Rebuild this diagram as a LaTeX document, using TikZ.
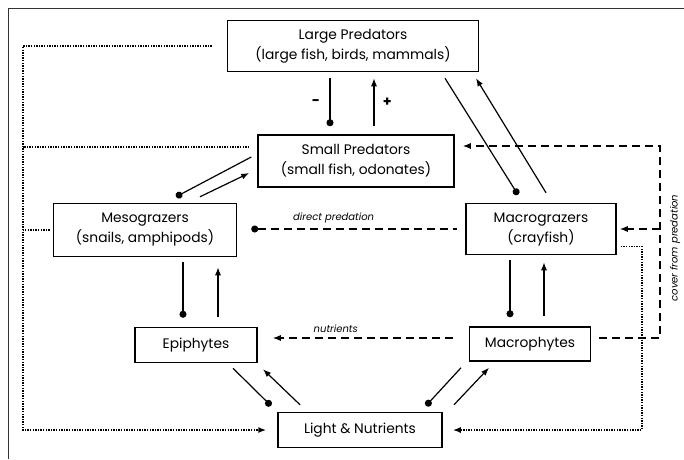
\documentclass[tikz,border=0pt]{standalone}
\usepackage{fontspec}
\setmainfont{Poppins}
\usetikzlibrary{arrows.meta, positioning}

\begin{document}
\begin{tikzpicture}[
    x=1pt, y=-1pt,
    box/.style={draw, line width=1.5pt, align=center, inner sep=0pt, font=\fontsize{13.8}{20}\selectfont},
    eat/.style={line width=1.2pt, -{Circle[length=7pt]}},
    gain/.style={line width=1.2pt, -{Latex[length=8pt,width=6pt]}},
    effect/.style={line width=1.2pt, dash pattern=on 8pt off 5pt},
    flow/.style={line width=1.5pt, dash pattern=on 1.4pt off 1.2pt},
    note/.style={font=\itshape\fontsize{10}{11}\selectfont},
    sign/.style={font=\bfseries\fontsize{14}{14}\selectfont}
]
    \useasboundingbox (0,0) rectangle (684,459);
    % Frame
    \draw[line width=1pt, black!80] (684,8) -- (8,8) -- (8,459);

    % Boxes
    \node[box, minimum width=251pt, minimum height=51pt] (large) at (353,46) {Large Predators\\(large fish, birds, mammals)};
    \node[box, minimum width=196pt, minimum height=52pt] (small) at (356,161) {Small Predators\\(small fish, odonates)};
    \node[box, minimum width=183pt, minimum height=53pt] (meso) at (145,230) {Mesograzers\\(snails, amphipods)};
    \node[box, minimum width=150pt, minimum height=51pt] (macro) at (541,229) {Macrograzers\\(crayfish)};
    \node[box, minimum width=122pt, minimum height=35pt] (epi) at (196,345) {Epiphytes};
    \node[box, minimum width=121pt, minimum height=34pt] (phyte) at (530,344) {Macrophytes};
    \node[box, minimum width=164pt, minimum height=35pt] (light) at (360,430) {Light \& Nutrients};

    % Feeding links
    \draw[eat] ([xshift=-23pt,yshift=-6pt]large.south) -- ([xshift=-26pt,yshift=8pt]small.north) node[sign, midway, left=6pt] {-};
    \draw[gain] ([xshift=18pt,yshift=8pt]small.north) -- ([xshift=21pt,yshift=-6pt]large.south) node[sign, midway, right=5pt] {+};
    \draw[eat] ([xshift=92pt,yshift=-6pt]large.south) -- ([xshift=-23pt,yshift=8pt]macro.north);
    \draw[gain] ([xshift=5pt,yshift=10pt]macro.north) -- ([xshift=123pt,yshift=-6pt]large.south);
    \draw[eat] ([xshift=-6pt,yshift=4pt]small.west) -- ([xshift=31pt,yshift=6pt]meso.north);
    \draw[gain] ([xshift=55pt,yshift=6pt]meso.north) -- ([xshift=-8pt,yshift=-12pt]small.west);
    \draw[eat] ([xshift=38pt,yshift=-5pt]meso.south) -- ([xshift=-13pt,yshift=9pt]epi.north);
    \draw[gain] ([xshift=22pt,yshift=10pt]epi.north) -- ([xshift=73pt,yshift=-10pt]meso.south);
    \draw[eat] ([xshift=-31pt,yshift=-5pt]macro.south) -- ([xshift=-20pt,yshift=9pt]phyte.north);
    \draw[gain] ([xshift=14pt,yshift=10pt]phyte.north) -- ([xshift=3pt,yshift=-7pt]macro.south);
    \draw[eat] ([xshift=37pt,yshift=-5pt]epi.south) -- ([xshift=-89pt,yshift=6pt]light.north);
    \draw[gain] ([xshift=-60pt,yshift=7pt]light.north) -- ([xshift=67pt,yshift=-6pt]epi.south);
    \draw[eat] ([xshift=-69pt,yshift=-6pt]phyte.south) -- ([xshift=66pt,yshift=6pt]light.north);
    \draw[gain] ([xshift=94pt,yshift=7pt]light.north) -- ([xshift=-41pt,yshift=-6pt]phyte.south);

    % Indirect effects
    \draw[effect, {Circle[length=7pt]}-] ([xshift=14pt,yshift=1pt]meso.east) -- ([xshift=-8pt]macro.west)
        node[note, pos=0.4, above=2pt] {direct predation};
    \draw[effect, -{Latex[length=8pt,width=6pt]}] ([xshift=-16pt,yshift=6pt]phyte.west) -- ([xshift=15pt,yshift=7pt]epi.east)
        node[note, pos=0.65, above=1pt] {nutrients};
    \coordinate (cv) at (660,146);
    \draw[effect, -{Latex[length=8pt,width=6pt]}] ([xshift=8pt,yshift=6pt]phyte.east) -| (cv) -- ([xshift=8pt,yshift=15pt]small.east);
    \draw[effect, -{Latex[length=8pt,width=6pt]}] (cv |- macro.east) -- ([xshift=3pt]macro.east);
    \node[note, rotate=90] (cover) at (675,248) {cover from predation};

    % Light and nutrient flows
    \coordinate (lft) at (23,0);
    \coordinate (rgt) at (642,0);
    \draw[flow, -{Latex[length=8pt,width=6pt]}, shorten <=15pt, shorten >=11pt] (large.west) -| (lft |- light.west) -- (light.west);
    \draw[flow, shorten <=8pt] (small.172) -- (small.172 -| lft);
    \draw[flow, shorten <=3pt] (meso.west) -- (meso.west -| lft);
    \draw[flow, -{Latex[length=8pt,width=6pt]}, shorten <=4pt, shorten >=10pt] (macro.-13) -| (rgt |- light.east) -- (light.east);
\end{tikzpicture}
\end{document}
